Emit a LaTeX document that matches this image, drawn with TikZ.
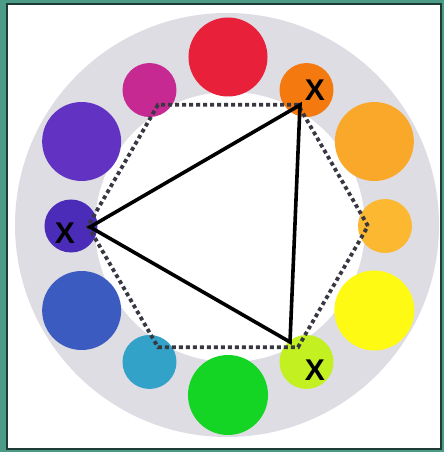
\documentclass[tikz,border=0pt]{standalone}
\usepackage{fontspec}
\newfontfamily\xfont{Liberation Sans}
\usetikzlibrary{positioning,calc}
\definecolor{frameteal}{HTML}{4B9B87}
\definecolor{framedark}{HTML}{1F3B36}
\definecolor{ringgray}{HTML}{DEDDE3}
\definecolor{dotgray}{HTML}{383842}
\definecolor{cred}{HTML}{E8203A}
\definecolor{corange}{HTML}{F47A10}
\definecolor{camber}{HTML}{F9A82A}
\definecolor{cgold}{HTML}{FBB830}
\definecolor{cyellow}{HTML}{FFFA14}
\definecolor{clime}{HTML}{C2F020}
\definecolor{cgreen}{HTML}{14D424}
\definecolor{ccyan}{HTML}{32A2C8}
\definecolor{cblue}{HTML}{3B5BC0}
\definecolor{cindigo}{HTML}{4A2CB8}
\definecolor{cviolet}{HTML}{6232C2}
\definecolor{cmagenta}{HTML}{C62A92}
\tikzset{
  hexdots/.style={dotgray,line width=3.8pt,dash pattern=on 3.8pt off 3.2pt},
  triline/.style={black,line width=3.6pt,line join=miter},
  xmark/.style={font=\xfont\bfseries\fontsize{30}{30}\selectfont,inner sep=0pt}
}
\begin{document}
\begin{tikzpicture}[x=1pt,y=1pt]
		\fill[frameteal] (-228,226) rectangle (216,-226);
		\draw[framedark,fill=white,line width=1.5pt] (-221,222) rectangle (213,-223);
		\fill[ringgray] (-1,1) circle (212);
		\fill[white] (2,-1) circle (135);
		\foreach \a/\r/\s/\c [count=\i] in {90/169/39.5/cred,60/157/27/corange,30/169/39.5/camber,0/157/27/cgold,-30/169/40/cyellow,-60/157/27/clime,-90/169/40/cgreen,-120/157/27/ccyan,-150/169/39.5/cblue,180/157/26.5/cindigo,150/169/39.5/cviolet,120/157/27/cmagenta}
		{
			\coordinate (c\i) at (\a:\r);
			\fill[\c] (c\i) circle (\s);
		}
		\foreach \a [count=\i] in {0,60,...,300}
			\coordinate (h\i) at (\a:140);
		\draw[hexdots] (h1) -- (h2) -- (h3) -- (h4) -- (h5) -- (h6) -- cycle;
		\coordinate (ta) at (72,121);
		\coordinate (tb) at (-138,-1);
		\coordinate (tc) at (62,-116);
		\draw[triline] (ta) -- (tb) -- (tc) -- cycle;
		\node[xmark] (xo) at (87,136) {X};
		\node[xmark] (xv) at (-163,-7) {X};
		\node[xmark] (xg) at (87,-144) {X};
\end{tikzpicture}
\end{document}
